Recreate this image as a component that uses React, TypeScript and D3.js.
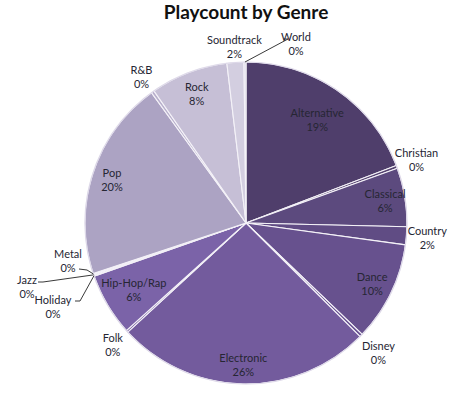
import React from "react";
import * as d3 from "d3";

const genres = ["Alternative","Christian","Classical","Country","Dance","Disney","Electronic","Folk","Hip-Hop/Rap","Holiday","Jazz","Metal","Pop","R&B","Rock","Soundtrack","World"];
const shares = [19.2,0.3,5.9,1.8,10.0,0.3,25.7,0.2,6.3,0.1,0.1,0.1,20.1,0.3,7.8,1.7,0.2];
const palette = ["#4f3e6b","#54426f","#5c4a7e","#604c84","#67518e","#6c5594","#735b9d","#7860a4","#7b63a8","#8a76ae","#9384b5","#9d90bb","#aca3c3","#b8afcc","#c6bfd6","#d3cee0","#dcd8e6"];

// label radius factor (relative to pie radius) for each genre
const labelRadius: Record<string, number> = {
  Alternative: 0.78, Christian: 1.13, Classical: 0.875, Country: 1.13, Dance: 0.87, Disney: 1.15,
  Electronic: 0.88, Folk: 1.12, "Hip-Hop/Rap": 0.81, Pop: 0.875, "R&B": 1.12, Rock: 0.86, Soundtrack: 1.1,
};
// labels moved away with leader lines: label offset (px) from pie center, and elbow points
const leader: Record<string, { lx: number; ly: number; pts: [number, number][] }> = {
  World: { lx: 50, ly: -180, pts: [[38, -184], [42, -184]] },
  Metal: { lx: -178, ly: 37, pts: [[-167, 46], [-159, 47]] },
  Jazz: { lx: -219, ly: 63, pts: [[-208, 59], [-203, 59]] },
  Holiday: { lx: -193, ly: 83, pts: [[-171, 78], [-166, 78]] },
};

const W = 474, H = 402;
const cx = 246, cy = 223, R = 161;
const FONT = "Lato, 'Open Sans', sans-serif";

export default function App() {
  const total = d3.sum(shares);
  const pie = d3.pie<number>().sort(null).value((d) => d).startAngle(0).endAngle(2 * Math.PI);
  const arcs = pie(shares);
  const arc = d3.arc<d3.PieArcDatum<number>>().innerRadius(0).outerRadius(R);
  const color = d3.scaleOrdinal<string, string>().domain(genres).range(palette);

  return (
    <svg width={W} height={H} style={{ position: "absolute", left: 0, top: 0, background: "#fff" }}>
      <text x={246} y={19} textAnchor="middle" fontFamily={FONT} fontWeight={700} fontSize={19} fill="#111">
        Playcount by Genre
      </text>
      <g transform={`translate(${cx},${cy})`}>
        {arcs.map((a, i) => (
          <path key={genres[i]} d={arc(a) || ""} fill={color(genres[i])} stroke="#f4f2f8" strokeWidth={1.1} strokeLinejoin="round" />
        ))}
        <circle r={R} fill="none" stroke="#ddd8e8" strokeWidth={1.2} />
        {arcs.map((a, i) => {
          const g = genres[i];
          const mid = (a.startAngle + a.endAngle) / 2;
          const pct = `${Math.round((shares[i] / total) * 100)}%`;
          const L = leader[g];
          let x: number, y: number;
          let line: string | null = null;
          if (L) {
            x = L.lx; y = L.ly;
            const ex = Math.sin(mid) * R, ey = -Math.cos(mid) * R;
            const pts: [number, number][] = [...L.pts, [ex, ey]];
            line = d3.line()(pts);
          } else {
            const r = R * (labelRadius[g] ?? 1.12);
            x = Math.sin(mid) * r; y = -Math.cos(mid) * r;
          }
          return (
            <g key={"l" + g}>
              {line && <path d={line} fill="none" stroke="#3a3a3a" strokeWidth={1} />}
              <text x={x} y={y - 7} textAnchor="middle" dominantBaseline="central" fontFamily={FONT} fontSize={11} fill="#262633">{g}</text>
              <text x={x} y={y + 7} textAnchor="middle" dominantBaseline="central" fontFamily={FONT} fontSize={11} fill="#262633">{pct}</text>
            </g>
          );
        })}
      </g>
    </svg>
  );
}
